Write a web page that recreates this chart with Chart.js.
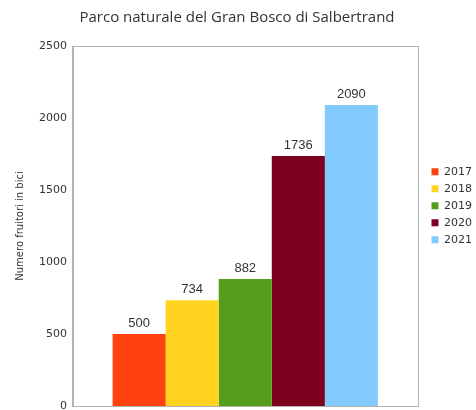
<!DOCTYPE html>
<html><head><meta charset="utf-8">
<script src="https://cdn.jsdelivr.net/npm/chart.js@4/dist/chart.umd.min.js"></script>
<style>html,body{margin:0;padding:0;background:#fff}#wrap{width:476px;height:410px}</style>
</head><body><div id="wrap"><canvas id="c" width="476" height="410"></canvas></div>
<script>
const years = ['2017','2018','2019','2020','2021'];
const values = [500, 734, 882, 1736, 2090];
const colors = ['#FF420E','#FFD320','#579D1C','#7E0021','#83CAFF'];
const yTicks = [0, 500, 1000, 1500, 2000, 2500];
const titleText = 'Parco naturale del Gran Bosco di Salbertrand';
const yTitle = 'Numero fruitori in bici';

const boxPlugin = {
  id: 'box',
  afterLayout(chart) {
    // push the legend a little away from the plot frame
    if (chart.legend) { chart.legend.left += 8; chart.legend.right += 8; }
  },
  afterDraw(chart) {
    const a = chart.chartArea, ctx = chart.ctx;
    ctx.save();
    ctx.strokeStyle = '#b3b3b3';
    ctx.lineWidth = 1;
    ctx.strokeRect(Math.round(a.left) + 0.5, Math.round(a.top) + 0.5, Math.round(a.right - a.left), Math.round(a.bottom - a.top));
    ctx.restore();
  }
};
const labelPlugin = {
  id: 'vals',
  afterDatasetsDraw(chart) {
    const ctx = chart.ctx;
    ctx.save();
    ctx.font = '13px "Liberation Sans", Arial, sans-serif';
    ctx.fillStyle = '#333';
    ctx.textAlign = 'center';
    ctx.textBaseline = 'alphabetic';
    chart.data.datasets.forEach((ds, i) => {
      const el = chart.getDatasetMeta(i).data[0];
      ctx.fillText(String(ds.data[0]), el.x, el.y - 7);
    });
    ctx.restore();
  }
};

new Chart(document.getElementById('c'), {
  type: 'bar',
  data: {
    labels: [''],
    datasets: years.map((y, i) => ({
      label: y,
      data: [values[i]],
      backgroundColor: colors[i],
      borderWidth: 0
    }))
  },
  options: {
    responsive: false,
    animation: false,
    layout: { padding: { left: 0, right: 2, top: 9, bottom: 4 } },
    datasets: { bar: { categoryPercentage: 0.77, barPercentage: 1 } },
    plugins: {
      tooltip: { enabled: false },
      title: {
        display: true, text: titleText, color: '#333',
        font: { family: '"Open Sans", sans-serif', size: 15, weight: 'normal' },
        padding: { top: 0, bottom: 19 }
      },
      legend: {
        position: 'right', align: 'start',
        title: { display: true, text: ' ', padding: { top: 138, bottom: 0 }, font: { size: 11 } },
        labels: {
          boxWidth: 7, boxHeight: 7, padding: 6, color: '#333',
          font: { family: '"DejaVu Sans", sans-serif', size: 11 }
        }
      }
    },
    scales: {
      x: {
        grid: { display: false, drawTicks: false },
        border: { display: true, color: '#b3b3b3' },
        ticks: { display: false, padding: 0 }
      },
      y: {
        min: 0, max: 2500,
        afterBuildTicks(s) { s.ticks = yTicks.map(v => ({ value: v })); },
        afterFit(s) { s.paddingBottom = 0; },
        grid: { display: false, drawTicks: false },
        border: { display: true, color: '#b3b3b3' },
        ticks: { color: '#333', padding: 6, callback: v => String(v), font: { family: '"DejaVu Sans", sans-serif', size: 11 } },
        title: {
          display: true, text: yTitle, color: '#333', padding: { top: 14, bottom: 7 },
          font: { family: '"DejaVu Sans", sans-serif', size: 10 }
        }
      }
    }
  },
  plugins: [boxPlugin, labelPlugin]
});
</script></body></html>
